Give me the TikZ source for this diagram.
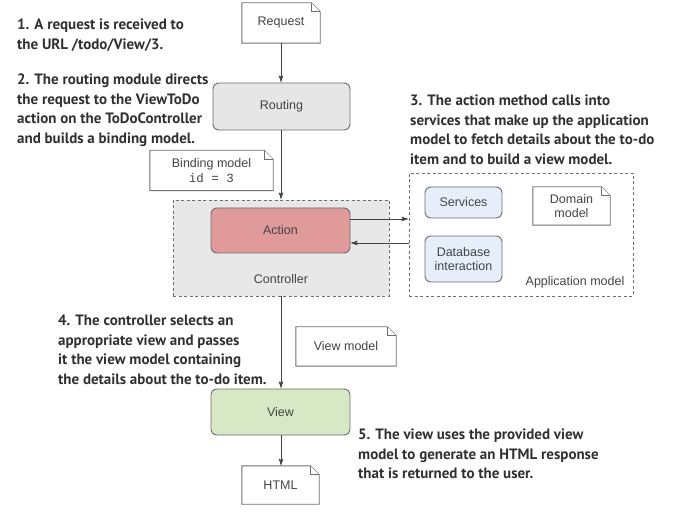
\documentclass[tikz,border=0pt]{standalone}
\usepackage{fontspec}
\setmainfont{Liberation Sans}
\newfontfamily\notefont{PT Sans}
\newfontfamily\codefont{Liberation Mono}
\usetikzlibrary{arrows.meta}
\definecolor{linegray}{HTML}{6E6E6E}
\definecolor{arrowgray}{HTML}{444444}
\definecolor{notecol}{HTML}{303030}
\definecolor{nodetext}{HTML}{444444}
\definecolor{routfill}{HTML}{E6E6E6}
\definecolor{ctrlfill}{HTML}{E8E8E8}
\definecolor{actfill}{HTML}{E09A9A}
\definecolor{viewfill}{HTML}{D6E8C4}
\definecolor{svcfill}{HTML}{E6EEFA}
\newcommand\docoutline[1]{%
  \draw[docline] (#1.south west) -- (#1.north west) -- ([xshift=-9pt]#1.north east)
    -- ([yshift=-9pt]#1.north east) -- (#1.south east) -- cycle;
  \draw[docline] ([xshift=-9pt]#1.north east) -- ([xshift=-9pt,yshift=-9pt]#1.north east)
    -- ([yshift=-9pt]#1.north east);}
\begin{document}
\begin{tikzpicture}[x=1pt,y=-1pt,
  every node/.style={inner sep=0pt, text=nodetext, font=\fontsize{12.5}{14.5}\selectfont},
  box/.style={draw=linegray, line width=0.9pt, rounded corners=6pt},
  docnode/.style={align=center},
  docline/.style={draw=linegray, line width=0.9pt, fill=white},
  dashbox/.style={draw=linegray, line width=0.9pt, dash pattern=on 3pt off 2.5pt},
  note/.style={font=\notefont\bfseries\fontsize{15}{19.5}\selectfont, text=notecol, align=left, anchor=north west},
  arr/.style={draw=arrowgray, line width=0.9pt, -{Stealth[length=7pt,width=4.5pt,inset=1pt]}}]
\useasboundingbox (0,0) rectangle (675,521);

% containers
\node[dashbox, fill=ctrlfill, minimum width=216pt, minimum height=96pt] (ctrl) at (281,248) {};
\node at (281,279) (ctrllbl) {Controller};
\node[dashbox, minimum width=224pt, minimum height=123pt] (appm) at (521,234.5) {};
\node at (575,282) (appmlbl) {Application model};

% documents
\node[docnode, minimum width=78pt, minimum height=40pt] (req) at (281,23) {};
\docoutline{req}
\node at (req) {Request};

\node[docnode, minimum width=123pt, minimum height=40pt] (bind) at (211.5,170.5) {};
\docoutline{bind}
\node[align=center] at (bind) {Binding model\\[1pt]{\codefont id = 3}};

\node[docnode, minimum width=77pt, minimum height=38pt] (dom) at (571.5,206) {};
\docoutline{dom}
\node[align=center] at (dom) {Domain\\model};

\node[docnode, minimum width=100pt, minimum height=39pt] (vm) at (346,346.5) {};
\docoutline{vm}
\node at (vm) {View model};

\node[docnode, minimum width=77pt, minimum height=38pt] (html) at (280.5,485) {};
\docoutline{html}
\node at (html) {HTML};

% boxes
\node[box, fill=routfill, minimum width=137pt, minimum height=47pt] (rout) at (281.5,106.5) {Routing};
\node[box, fill=actfill, minimum width=139pt, minimum height=45pt] (act) at (280.5,230.5) {Action};
\node[box, fill=svcfill, minimum width=77pt, minimum height=31pt] (svc) at (463.5,202.5) {Services};
\node[box, fill=svcfill, minimum width=77pt, minimum height=46pt, align=center] (db) at (463.5,259) {Database\\interaction};
\node[box, fill=viewfill, minimum width=139pt, minimum height=46pt] (view) at (280.5,412) {View};

% connectors
\draw[arr] (req.south) -- (req.south |- rout.north);
\draw[arr] (req.south |- rout.south) -- (req.south |- ctrl.north);
\coordinate (a1) at ([yshift=11.5pt]act.east);
\coordinate (a2) at ([yshift=-12.5pt]act.east);
\draw[arr] (a1) -- (a1 -| appm.west);
\draw[arr] (a2 -| appm.west) -- (a2);
\draw[arr] (req.south |- ctrl.south) -- (req.south |- view.north);
\draw[arr] (req.south |- view.south) -- (req.south |- html.north);

% notes
\node[note] (n1) at (17,19) {1. A request is received to\\the URL /todo/View/3.};
\node[note] (n2) at (17,74) {2. The routing module directs\\the request to the ViewToDo\\action on the ToDoController\\and builds a binding model.};
\node[note] (n3) at (410,95) {3. The action method calls into\\services that make up the application\\model to fetch details about the to-do\\item and to build a view model.};
\node[note] (n4) at (58,315) {4. The controller selects an\\appropriate view and passes\\it the view model containing\\the details about the to-do item.};
\node[note] (n5) at (358,429) {5. The view uses the provided view\\model to generate an HTML response\\that is returned to the user.};
\end{tikzpicture}
\end{document}
